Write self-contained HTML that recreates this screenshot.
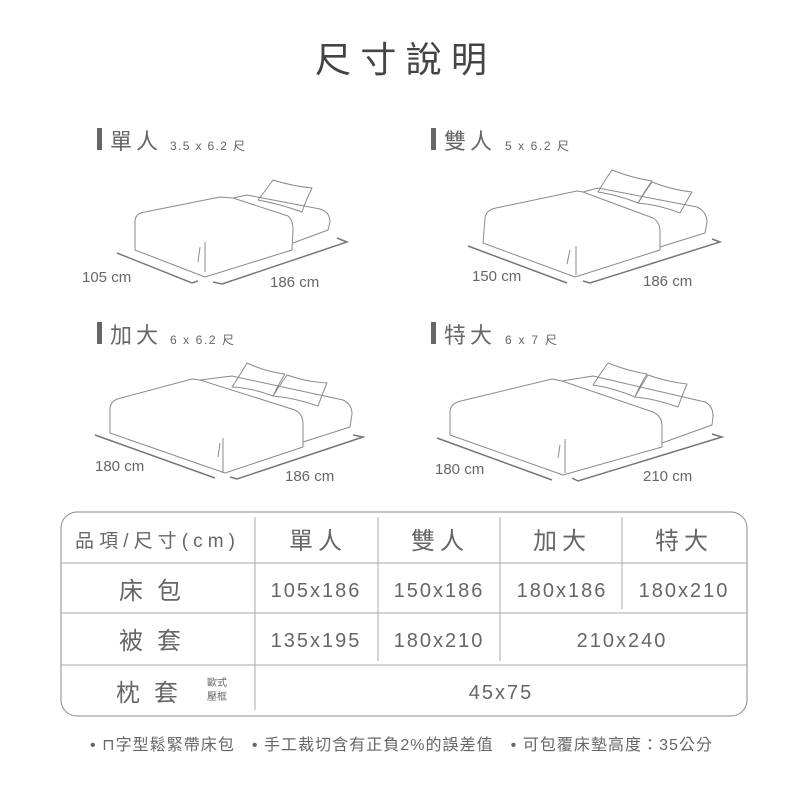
<!DOCTYPE html>
<html><head><meta charset="utf-8"><style>
body{margin:0;background:#fff;}
svg{display:block;}
text{font-family:"Liberation Sans","Noto Sans CJK TC",sans-serif;fill:#666;}
.b{fill:none;stroke:#8a8a8a;stroke-width:1;stroke-linejoin:round;}
.d{fill:none;stroke:#777;stroke-width:1.5;}
</style></head><body>
<svg width="800" height="800" viewBox="0 0 800 800">
<rect width="800" height="800" fill="#fff"/>
<text x="315" y="72" font-size="36" textLength="172" lengthAdjust="spacing" style="fill:#444">尺寸說明</text>

<!-- headers -->
<rect x="97" y="128" width="5" height="22" fill="#666"/>
<text x="110" y="149" font-size="22" letter-spacing="4">單人</text><text x="170" y="150" font-size="12" textLength="75">3.5 x 6.2 尺</text>
<rect x="431" y="128" width="5" height="22" fill="#666"/>
<text x="444" y="149" font-size="22" letter-spacing="4">雙人</text><text x="505" y="150" font-size="12" textLength="64">5 x 6.2 尺</text>
<rect x="97" y="322" width="5" height="22" fill="#666"/>
<text x="110" y="343" font-size="22" letter-spacing="4">加大</text><text x="170" y="344" font-size="12" textLength="64">6 x 6.2 尺</text>
<rect x="431" y="322" width="5" height="22" fill="#666"/>
<text x="444" y="343" font-size="22" letter-spacing="4">特大</text><text x="505" y="344" font-size="12" textLength="52">6 x 7 尺</text>

<!-- single bed -->
<path class="b" d="M233,198 L247,195 L320,209 Q330,212 330,222 L328,230 L293,243"/>
<path class="b" d="M258,200 Q266,190 273,180 Q292,186 312,188 Q306,200 302,212 Q280,204 258,200 Z"/>
<path class="b" d="M135,250 L135,222 Q135,213 145,212 L220,197 L233,198 L288,216 Q293,220 293,230 L292,250 L205,277 Z"/>
<path class="b" d="M205,242 L205,272 M200,247 L198,262"/>
<path class="d" d="M117,253 L192,283 L198,281 M213,282 L222,284 L347,242 L337,238"/>
<text x="82" y="282" font-size="15">105 cm</text>
<text x="270" y="287" font-size="15">186 cm</text>

<!-- double bed -->
<path class="b" d="M583,192 L598,188 L697,207 Q707,212 707,222 L705,233 L660,247"/>
<path class="b" d="M598,192 Q605,180 612,170 Q632,178 652,181 Q644,192 638,203 Q618,195 598,192 Z M638,203 Q645,192 652,182 Q672,190 692,192 Q686,202 680,213 Q660,205 638,203 Z"/>
<path class="b" d="M483,243 L485,218 Q486,210 496,208 L577,191 L583,192 L653,218 Q660,222 660,232 L660,250 L575,277 Z"/>
<path class="b" d="M576,246 L576,275 M570,250 L567,264"/>
<path class="d" d="M468,246 L567,283 M583,281 L590,283 L720,242 L712,239"/>
<text x="472" y="281" font-size="15">150 cm</text>
<text x="643" y="286" font-size="15">186 cm</text>

<!-- queen bed -->
<path class="b" d="M200,380 L232,376 L343,400 Q352,404 352,414 L350,427 L303,442"/>
<path class="b" d="M232,387 Q240,375 247,363 Q266,372 285,374 Q278,385 273,396 Q252,388 232,387 Z M273,396 Q280,385 287,375 Q307,382 327,383 Q322,395 318,406 Q295,398 273,396 Z"/>
<path class="b" d="M110,433 L110,408 Q111,400 121,398 L192,379 L200,380 L295,410 Q303,414 303,424 L303,447 L225,473 Z"/>
<path class="b" d="M223,438 L223,473 M220,443 L218,457"/>
<path class="d" d="M95,435 L215,478 M230,477 L237,479 L363,437 L353,435"/>
<text x="95" y="471" font-size="15">180 cm</text>
<text x="285" y="481" font-size="15">186 cm</text>

<!-- king bed -->
<path class="b" d="M562,381 L593,376 L705,402 Q713,406 713,416 L712,425 L662,443"/>
<path class="b" d="M593,385 Q600,374 608,363 Q628,371 647,374 Q640,385 635,397 Q614,388 593,385 Z M635,397 Q641,386 648,375 Q668,382 687,384 Q682,396 678,407 Q656,399 635,397 Z"/>
<path class="b" d="M450,435 L450,411 Q451,403 461,401 L552,379 L562,381 L653,412 Q662,416 662,426 L662,447 L563,475 Z"/>
<path class="b" d="M565,439 L565,473 M560,445 L558,458"/>
<path class="d" d="M437,438 L552,480 M572,478 L578,481 L722,437 L712,434"/>
<text x="435" y="474" font-size="15">180 cm</text>
<text x="643" y="481" font-size="15">210 cm</text>

<!-- table -->
<rect x="61" y="512" width="686" height="204" rx="16" fill="none" stroke="#888" stroke-width="1"/>
<g stroke="#aaa" stroke-width="1">
<line x1="61" y1="563" x2="747" y2="563"/><line x1="61" y1="613" x2="747" y2="613"/><line x1="61" y1="665" x2="747" y2="665"/>
<line x1="255" y1="517" x2="255" y2="710"/>
<line x1="378" y1="517" x2="378" y2="661"/>
<line x1="500" y1="517" x2="500" y2="661"/>
<line x1="622" y1="517" x2="622" y2="609"/>
</g>
<text x="75" y="547" font-size="19" textLength="160">品項/尺寸(cm)</text>
<g font-size="24" text-anchor="middle" letter-spacing="5">
<text x="318" y="549">單人</text><text x="440" y="549">雙人</text><text x="562" y="549">加大</text><text x="684" y="549">特大</text>
<text x="157" y="599" letter-spacing="14">床包</text>
<text x="157" y="649" letter-spacing="14">被套</text>
<text x="154" y="701" letter-spacing="14">枕套</text>
</g>
<text x="207" y="686" font-size="10">歐式</text><text x="207" y="700" font-size="10">壓框</text>
<g font-size="20" text-anchor="middle" letter-spacing="2">
<text x="316" y="597">105x186</text><text x="439" y="597">150x186</text><text x="562" y="597">180x186</text><text x="684" y="597">180x210</text>
<text x="316" y="647">135x195</text><text x="439" y="647">180x210</text><text x="622" y="647">210x240</text>
<text x="501" y="699">45x75</text>
</g>
<text x="90" y="750" font-size="16" textLength="622">• ⊓字型鬆緊帶床包　• 手工裁切含有正負2%的誤差值　• 可包覆床墊高度：35公分</text>
</svg>
</body></html>
